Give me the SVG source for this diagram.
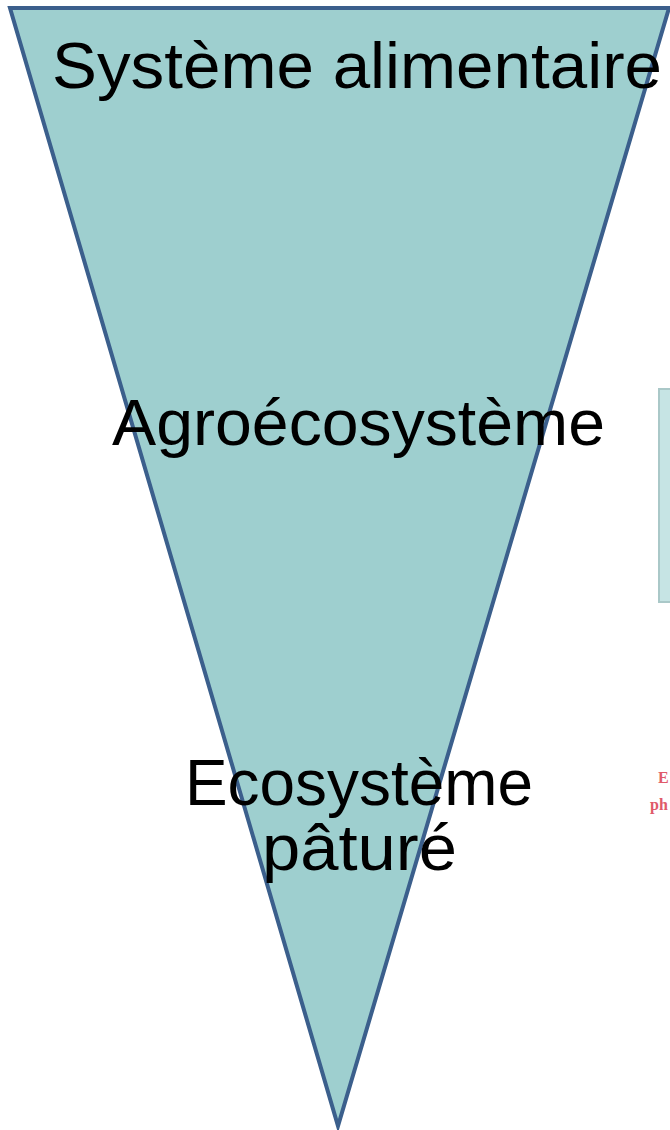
<svg xmlns="http://www.w3.org/2000/svg" width="670" height="1130" viewBox="0 0 670 1130">
<style>
.lbl{font-family:"Liberation Sans",Arial,sans-serif;font-size:64px;fill:#000}
.frag{font-family:"Liberation Serif",serif;font-size:16px;fill:#e05a6a;font-weight:bold}
</style>
<rect width="670" height="1130" fill="#fff"/>
<g id="fragments">
<rect x="659" y="389" width="14" height="213" fill="#c6e4e4" stroke="#aac8c8" stroke-width="2"/>
<text class="frag" x="658" y="783">E</text>
<text class="frag" x="650" y="810">ph</text>
</g>
<g id="triangle">
<polygon points="10,8 669,8 338,1126" fill="#9ecfcf" stroke="#3b5f8c" stroke-width="4" stroke-linejoin="miter"/>
</g>
<g id="labels">
<text class="lbl" x="52" y="88" textLength="610" lengthAdjust="spacingAndGlyphs">Système alimentaire</text>
<text class="lbl" x="112" y="445" textLength="493" lengthAdjust="spacingAndGlyphs">Agroécosystème</text>
<text class="lbl" x="185" y="805" textLength="348" lengthAdjust="spacingAndGlyphs">Ecosystème</text>
<text class="lbl" x="262" y="870" textLength="195" lengthAdjust="spacingAndGlyphs">pâturé</text>
</g>
</svg>
